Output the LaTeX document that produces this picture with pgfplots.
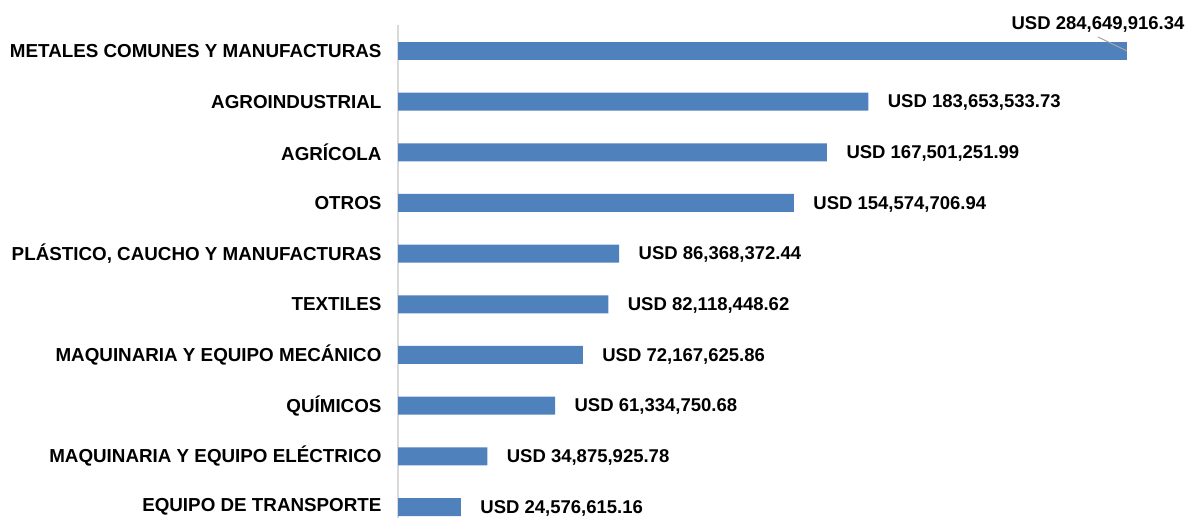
\documentclass[border=0pt]{standalone}
\usepackage{pgfplots}
\pgfplotsset{compat=1.18}
\usepackage{pgfplotstable}
\usepackage{fontspec}
\setmainfont{Liberation Sans}
\definecolor{barblue}{HTML}{4F81BD}
\definecolor{axisgray}{HTML}{D9D9D9}
\pgfplotstableread[col sep=semicolon]{
y;v;lab
0;24576615.16;USD 24,576,615.16
1;34875925.78;USD 34,875,925.78
2;61334750.68;USD 61,334,750.68
3;72167625.86;USD 72,167,625.86
4;82118448.62;USD 82,118,448.62
5;86368372.44;USD 86,368,372.44
6;154574706.94;USD 154,574,706.94
7;167501251.99;USD 167,501,251.99
8;183653533.73;USD 183,653,533.73
9;284649916.34;USD 284,649,916.34
}\data
\begin{document}
\begin{tikzpicture}
\useasboundingbox (0,0) rectangle (1190pt,518pt);
\begin{axis}[
  at={(398pt,0pt)}, anchor=south west,
  scale only axis, width=780pt, height=493pt,
  xbar, bar width=18pt, bar shift=0pt,
  xmin=0, xmax=304570000,
  ymin=-0.217, ymax=9.513,
  axis x line=none,
  axis y line*=left,
  y axis line style={draw=axisgray, line width=1.5pt},
  ytick={0,...,9},
  yticklabels={EQUIPO DE TRANSPORTE, MAQUINARIA Y EQUIPO ELÉCTRICO, QUÍMICOS, MAQUINARIA Y EQUIPO MECÁNICO, TEXTILES, {PLÁSTICO, CAUCHO Y MANUFACTURAS}, OTROS, AGRÍCOLA, AGROINDUSTRIAL, METALES COMUNES Y MANUFACTURAS},
  major tick length=0pt,
  yticklabel style={font=\fontsize{18.8pt}{20pt}\selectfont\bfseries, xshift=-13pt},
  clip=false,
  point meta=explicit symbolic,
  nodes near coords={\fontsize{18.5pt}{20pt}\selectfont\bfseries\pgfplotspointmeta},
  every node near coord/.append style={text=black},
]
\addplot[fill=barblue, draw=none, skip coords between index={9}{10},
  nodes near coords style={anchor=west, xshift=16pt, yshift=-1pt}]
  table[x=v, y=y, meta=lab] {\data};
\addplot[fill=barblue, draw=none, skip coords between index={0}{9},
  nodes near coords style={anchor=base, xshift=-29pt, yshift=21pt}]
  table[x=v, y=y, meta=lab] {\data};
\draw[gray!70, line width=1pt] (axis cs:284649916.34,9) -- ++(-29pt,14pt);
\end{axis}
\end{tikzpicture}
\end{document}
